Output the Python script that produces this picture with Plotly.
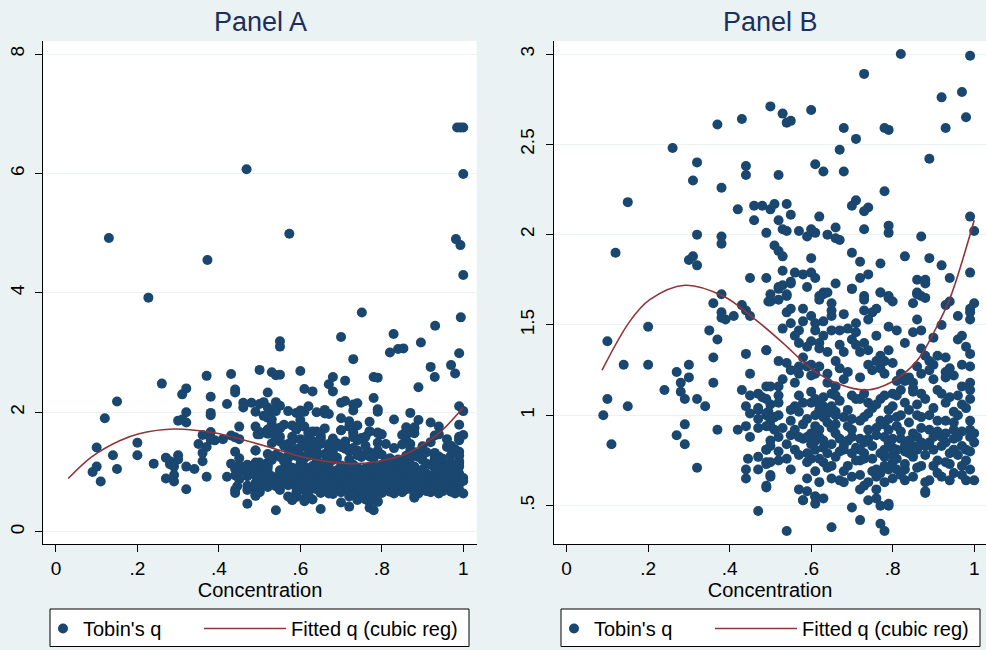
import plotly.graph_objects as go

# ---------------- data ----------------
# Observations with Tobin's q <= 3 (shown in both panels): (concentration, q)
obs_upper = [
    (0.82,3.00),(0.99,2.99),(0.73,2.89),(0.97,2.79),(0.92,2.76),(0.50,2.71),(0.60,2.69),(0.53,2.67),
    (0.43,2.64),(0.98,2.65),(0.54,2.62),(0.55,2.63),(0.37,2.61),(0.68,2.59),(0.78,2.59),(0.79,2.58),
    (0.93,2.59),(0.71,2.53),(0.26,2.48),(0.67,2.47),(0.89,2.42),(0.32,2.40),(0.44,2.38),(0.44,2.33),
    (0.61,2.39),(0.52,2.33),(0.63,2.35),(0.68,2.35),(0.31,2.30),(0.38,2.26),(0.78,2.24),(0.15,2.18),
    (0.42,2.14),(0.46,2.16),(0.48,2.16),(0.50,2.14),(0.51,2.17),(0.54,2.17),(0.70,2.16),(0.71,2.19),
    (0.73,2.13),(0.74,2.15),(0.46,2.08),(0.52,2.08),(0.55,2.11),(0.62,2.10),(0.99,2.10),(0.32,2.00),
    (0.38,1.99),(0.38,1.95),(0.49,2.01),(0.53,2.03),(0.54,2.02),(0.57,2.02),(0.59,1.99),(0.60,2.03),
    (0.61,2.01),(0.64,2.00),(0.66,2.04),(0.66,1.98),(0.67,1.97),(0.73,2.03),(0.79,2.05),(0.79,2.01),
    (0.87,1.99),(1.00,2.02),(0.12,1.90),(0.30,1.86),(0.31,1.88),(0.32,1.83),(0.51,1.94),(0.52,1.91),
    (0.53,1.88),(0.60,1.87),(0.70,1.90),(0.72,1.85),(0.77,1.84),(0.83,1.88),(0.89,1.87),(0.92,1.83),
    (0.45,1.76),(0.49,1.76),(0.53,1.80),(0.56,1.79),(0.58,1.78),(0.60,1.79),(0.61,1.76),(0.74,1.78),
    (0.72,1.76),(0.66,1.73),(0.70,1.70),(0.86,1.75),(0.88,1.75),(0.88,1.73),(0.94,1.76),(0.99,1.79),
    (0.52,1.71),(0.53,1.72),(0.55,1.74),(0.55,1.73),(0.59,1.71),(0.38,1.67),(0.54,1.67),(0.63,1.67),
    (0.64,1.68),(0.77,1.68),(0.79,1.66),(0.86,1.68),(0.87,1.66),(0.50,1.67),(0.62,1.66),(0.73,1.66),
]
obs_left = [
    (0.10,1.41),(0.09,1.00),(0.10,1.09),(0.11,0.84),(0.14,1.28),(0.15,1.05),(0.20,1.49),(0.20,1.28),
    (0.24,1.14),(0.27,1.24),(0.30,1.28),(0.28,1.18),(0.28,1.13),(0.30,1.21),(0.29,1.09),(0.32,1.09),
    (0.34,1.05),(0.29,0.95),(0.27,0.89),(0.29,0.84),(0.32,0.71),(0.36,1.32),(0.36,1.18),(0.37,0.92),
    (0.35,1.47),(0.37,1.42),(0.36,1.62),(0.38,1.57),(0.38,1.54),(0.39,1.53),(0.41,1.55),(0.43,1.61),
    (0.44,1.58),(0.45,1.55),(0.495,1.63),(0.49,1.36),(0.44,1.34),(0.45,1.23),(0.43,1.14),(0.45,1.11),
    (0.47,1.12),(0.48,1.10),(0.49,1.16),(0.44,1.05),(0.45,1.01),(0.47,1.04),(0.47,0.98),(0.49,1.00),
    (0.50,0.97),(0.42,0.92),(0.44,0.94),(0.45,0.88),(0.47,0.93),(0.49,0.94),(0.49,0.81),(0.445,0.76),
    (0.47,0.77),(0.44,0.70),(0.44,0.65),(0.47,0.70),(0.49,0.73),(0.50,0.67),(0.49,0.61),(0.47,0.47),
    (0.47,1.03),(0.495,1.02),(0.79,0.50),(0.88,0.57),(0.58,0.53),(0.61,0.55),
]
obs_core = [
    (0.52,1.70),(0.50,1.63),(0.52,1.64),(0.54,1.66),(0.55,1.59),(0.54,1.57),(0.58,1.59),(0.62,1.64),
    (0.63,1.68),(0.65,1.62),(0.65,1.58),(0.65,1.55),(0.68,1.56),(0.70,1.70),(0.73,1.64),(0.73,1.58),
    (0.75,1.57),(0.76,1.59),(0.74,1.53),(0.77,1.68),(0.79,1.65),(0.80,1.63),(0.85,1.62),(0.86,1.67),
    (0.88,1.65),(0.93,1.61),(0.94,1.63),(0.99,1.57),(0.99,1.59),(1.00,1.62),(0.99,1.53),
    (0.53,1.48),(0.55,1.51),(0.57,1.47),(0.58,1.52),(0.60,1.55),(0.61,1.51),(0.61,1.47),(0.57,1.40),
    (0.59,1.38),(0.60,1.41),(0.62,1.40),(0.62,1.37),(0.64,1.35),(0.63,1.44),(0.65,1.47),(0.67,1.47),
    (0.67,1.39),(0.68,1.35),(0.70,1.42),(0.71,1.46),(0.71,1.51),(0.71,1.39),(0.73,1.40),(0.72,1.35),
    (0.74,1.36),(0.79,1.49),(0.81,1.47),(0.86,1.53),(0.85,1.46),(0.87,1.47),(0.90,1.43),(0.87,1.37),
    (0.88,1.33),(0.93,1.32),(0.96,1.42),(0.97,1.44),(0.99,1.34),(0.49,1.36),
    (0.52,1.30),(0.54,1.29),(0.55,1.25),(0.57,1.23),(0.57,1.27),(0.56,1.18),(0.59,1.27),(0.60,1.28),
    (0.61,1.23),(0.60,1.22),(0.64,1.23),(0.64,1.18),(0.66,1.30),(0.67,1.26),(0.68,1.20),(0.66,1.16),
    (0.74,1.28),(0.75,1.25),(0.76,1.30),(0.77,1.33),(0.78,1.30),(0.79,1.36),(0.77,1.26),(0.78,1.23),
    (0.80,1.29),(0.82,1.23),(0.83,1.19),(0.84,1.21),(0.85,1.18),(0.85,1.15),(0.87,1.23),(0.89,1.30),
    (0.90,1.28),(0.89,1.25),(0.90,1.20),(0.93,1.24),(0.94,1.26),(0.93,1.21),(0.97,1.28),(0.99,1.27),
    (0.99,1.18),(0.99,1.14),(0.50,1.16),(0.52,1.16),
    (0.49,1.09),(0.50,1.06),(0.52,1.11),(0.52,1.07),(0.57,1.11),(0.56,1.05),(0.57,1.02),(0.60,1.07),
    (0.61,1.09),(0.62,1.06),(0.63,1.10),(0.65,1.12),(0.66,1.11),(0.65,1.05),(0.66,1.02),(0.70,1.11),
    (0.71,1.09),(0.72,1.09),(0.74,1.07),(0.75,1.04),(0.74,1.01),(0.77,1.09),(0.79,1.03),(0.80,1.12),
    (0.81,1.11),(0.83,1.07),(0.84,1.03),(0.85,1.13),(0.87,1.12),(0.92,1.12),(0.94,1.10),(0.96,1.11),
    (0.97,1.06),(0.99,1.09),(0.98,1.04),(0.96,1.00),(0.49,1.01),(0.51,0.99),(0.52,1.00),(0.59,0.98),
    (0.61,1.00),(0.62,1.03),(0.63,0.99),(0.64,1.01),(0.66,1.00),(0.68,0.99),(0.70,0.98),(0.72,0.97),
    (0.73,0.99),(0.77,0.97),(0.78,0.95),(0.79,0.98),(0.81,0.99),(0.82,1.00),(0.84,0.96),(0.86,1.00),
    (0.87,0.99),(0.89,1.00),(0.91,0.97),(0.93,0.97),(0.95,0.96),(0.99,0.97),
    (0.50,0.94),(0.51,0.92),(0.52,0.88),(0.50,0.86),(0.49,0.81),(0.50,0.83),(0.52,0.80),(0.55,0.89),
    (0.57,0.88),(0.58,0.87),(0.59,0.88),(0.60,0.90),(0.61,0.86),(0.61,0.94),(0.62,0.88),(0.63,0.82),
    (0.64,0.96),(0.65,0.93),(0.66,0.90),(0.67,0.87),(0.68,0.83),(0.69,0.94),(0.70,0.88),(0.71,0.82),
    (0.68,0.81),(0.72,0.87),(0.73,0.85),(0.74,0.92),(0.76,0.93),(0.77,0.95),(0.78,0.88),(0.79,0.85),
    (0.80,0.87),(0.79,0.92),(0.81,0.94),(0.82,0.87),(0.83,0.83),(0.83,0.80),(0.85,0.90),(0.85,0.83),
    (0.86,0.88),(0.87,0.93),(0.89,0.85),(0.90,0.88),(0.91,0.91),(0.92,0.88),(0.93,0.85),(0.95,0.92),
    (0.95,0.87),(0.96,0.88),(0.97,0.83),(0.99,0.88),(0.99,0.92),(1.00,0.90),(0.56,0.81),(0.59,0.79),
    (0.61,0.81),(0.64,0.79),(0.65,0.84),(0.70,0.79),(0.73,0.79),(0.75,0.83),(0.78,0.81),(0.78,0.77),
    (0.80,0.78),(0.81,0.81),(0.84,0.79),(0.86,0.81),(0.88,0.83),(0.94,0.79),(0.95,0.81),(0.98,0.81),
    (0.49,0.74),(0.50,0.74),(0.52,0.75),(0.54,0.76),(0.59,0.74),(0.60,0.76),(0.62,0.76),(0.63,0.74),
    (0.65,0.72),(0.66,0.77),(0.69,0.72),(0.72,0.75),(0.73,0.76),(0.76,0.70),(0.76,0.66),(0.77,0.68),
    (0.78,0.63),(0.79,0.70),(0.80,0.74),(0.81,0.70),(0.82,0.67),(0.83,0.70),(0.83,0.64),(0.87,0.72),
    (0.90,0.72),(0.92,0.66),(0.93,0.74),(0.95,0.68),(0.97,0.72),(0.99,0.70),(0.98,0.64),(1.00,0.64),
    (0.50,0.66),(0.49,0.60),(0.59,0.65),(0.57,0.59),(0.59,0.58),(0.61,0.55),(0.63,0.54),(0.62,0.63),
    (0.65,0.65),(0.67,0.64),(0.68,0.63),(0.72,0.67),(0.72,0.59),(0.73,0.61),(0.74,0.63),(0.76,0.59),
    (0.89,0.64),(0.88,0.63),(0.88,0.58),(0.74,0.53),(0.76,0.54),(0.77,0.50),(0.79,0.51),(0.58,0.53),
    (0.61,0.51),(0.70,0.49),(0.72,0.42),(0.54,0.36),(0.65,0.38),(0.77,0.40),(0.78,0.36),
]
# Additional overlapping observations in the densest part of the cloud
obs_dense_extra = [
    (0.53,0.93),(0.55,0.97),(0.56,0.92),(0.58,0.95),(0.54,0.84),(0.57,0.78),(0.60,0.84),(0.62,0.92),
    (0.63,0.86),(0.66,0.95),(0.67,0.80),(0.69,0.86),(0.70,0.92),(0.71,0.75),(0.72,0.81),(0.74,0.87),
    (0.75,0.76),(0.76,0.89),(0.77,0.79),(0.78,0.72),(0.80,0.82),(0.81,0.76),(0.82,0.91),(0.83,0.73),
    (0.84,0.86),(0.85,0.77),(0.86,0.71),(0.87,0.85),(0.88,0.78),(0.89,0.92),(0.90,0.81),(0.91,0.75),
    (0.92,0.83),(0.93,0.90),(0.94,0.73),(0.96,0.78),(0.97,0.91),(0.98,0.75),(0.99,0.80),(1.00,0.85),
    (0.55,1.03),(0.58,1.07),(0.60,1.13),(0.63,1.05),(0.67,1.08),(0.69,1.03),(0.73,1.12),(0.76,1.06),
    (0.78,1.11),(0.80,1.05),(0.82,1.14),(0.86,1.06),(0.88,1.09),(0.90,1.04),(0.91,1.14),(0.93,1.07),
    (0.95,1.02),(0.97,1.16),(0.53,1.20),(0.58,1.32),(0.62,1.27),(0.69,1.24),(0.72,1.21),(0.81,1.19),
    (0.86,1.27),(0.91,1.33),(0.95,1.22),(0.98,1.38),(0.55,0.70),(0.61,0.69),(0.64,0.71),(0.68,0.69),
    (0.70,0.66),(0.75,0.69),(0.80,0.65),(0.85,0.66),(0.91,0.68),(0.94,0.64),(0.97,0.67),(0.56,1.44),
    (0.63,1.52),(0.69,1.48),(0.76,1.44),(0.83,1.40),(0.92,1.50),(0.96,1.55),
]
# Observations with q > 3 (visible in Panel A only)
obs_high = [
    (0.13,4.92),(0.227,3.92),(0.372,4.55),(0.468,6.07),(0.573,4.99),(0.985,6.77),(0.993,6.77),
    (1.00,6.77),(1.00,5.99),(0.982,4.90),(0.993,4.80),(1.00,4.30),(0.751,3.67),(0.994,3.59),
    (0.931,3.45),(0.829,3.31),(0.70,3.26),(0.896,3.17),(0.55,3.19),(0.55,3.10),(0.84,3.06),(0.853,3.07),
]

# Fitted cubic regression curve
fit_conc = [0.03, 0.087, 0.155, 0.204, 0.29, 0.384, 0.458, 0.531, 0.605, 0.671, 0.736, 0.794, 0.859, 0.908, 0.941, 1.0]
fit_q    = [0.89, 1.25, 1.52, 1.64, 1.72, 1.66, 1.54, 1.40, 1.25, 1.17, 1.14, 1.18, 1.30, 1.49, 1.65, 2.08]

x_tickvals = [0, 0.2, 0.4, 0.6, 0.8, 1]
x_ticktext = ["0", ".2", ".4", ".6", ".8", "1"]
ya_tickvals = [0, 2, 4, 6, 8]
ya_ticktext = ["0", "2", "4", "6", "8"]
yb_tickvals = [0.5, 1, 1.5, 2, 2.5, 3]
yb_ticktext = [".5", "1", "1.5", "2", "2.5", "3"]

panel_titles = ["Panel A", "Panel B"]
x_title = "Concentration"
names = ["Tobin's q", "Fitted q (cubic reg)"]

# ---------------- assemble ----------------
obs_b = obs_upper + obs_left + obs_core + obs_dense_extra
conc_b = [p[0] for p in obs_b]
q_b = [p[1] for p in obs_b]
conc_a = conc_b + [p[0] for p in obs_high]
q_a = q_b + [p[1] for p in obs_high]

NAVY = "#1a476f"
MAROON = "#90353b"
BG = "#eaf2f3"
FONT = "Liberation Sans, Arial, sans-serif"
W, H = 986, 650

fig = go.Figure()
fig.add_trace(go.Scatter(x=conc_a, y=q_a, mode="markers", name=names[0],
                         marker=dict(size=10, color=NAVY, line=dict(width=0)),
                         xaxis="x", yaxis="y", legend="legend"))
fig.add_trace(go.Scatter(x=fit_conc, y=fit_q, mode="lines", name=names[1],
                         line=dict(color=MAROON, width=1.6, shape="spline", smoothing=1),
                         xaxis="x", yaxis="y", legend="legend2"))
fig.add_trace(go.Scatter(x=conc_b, y=q_b, mode="markers", name=names[0],
                         marker=dict(size=10, color=NAVY, line=dict(width=0)),
                         xaxis="x2", yaxis="y2", legend="legend3"))
fig.add_trace(go.Scatter(x=fit_conc[1:], y=fit_q[1:], mode="lines", name=names[1],
                         line=dict(color=MAROON, width=1.6, shape="spline", smoothing=1),
                         xaxis="x2", yaxis="y2", legend="legend4"))

ydom = [(H - 544.3) / H, (H - 41) / H]
common_x = dict(showline=True, linecolor="#000000", linewidth=1, ticks="outside", ticklen=7,
                tickcolor="#000000", tickwidth=1, showgrid=False, zeroline=False,
                tickvals=x_tickvals, ticktext=x_ticktext, automargin=False,
                tickfont=dict(family=FONT, size=19, color="#000000"), ticklabelstandoff=0,
                title=dict(text=x_title, font=dict(family=FONT, size=20, color="#000000"), standoff=0))
common_y = dict(showline=True, linecolor="#000000", linewidth=1, ticks="outside", ticklen=7,
                tickcolor="#000000", tickwidth=1, showgrid=True, gridcolor=BG, gridwidth=1,
                zeroline=False, tickangle=-90, automargin=False, ticklabelstandoff=4,
                tickfont=dict(family=FONT, size=19, color="#000000"), domain=ydom)

def leg(x_px, item_w):
    return dict(orientation="h", x=x_px / W, xanchor="left", y=1 - 609 / H, yanchor="top",
                bgcolor="rgba(0,0,0,0)", borderwidth=0,
                font=dict(family=FONT, size=20, color="#000000"), itemwidth=item_w)

# legend frames (white boxes with black border) behind the legend entries
boxes = []
for x0 in (50, 561):
    boxes.append(dict(type="rect", xref="paper", yref="paper",
                      x0=x0 / W, x1=(x0 + 419) / W, y0=1 - 646.5 / H, y1=1 - 609 / H,
                      fillcolor="#ffffff", line=dict(color="#000000", width=1), layer="above"))

fig.update_layout(
    width=W, height=H,
    margin=dict(l=0, r=0, t=0, b=0),
    paper_bgcolor=BG, plot_bgcolor="#ffffff",
    font=dict(family=FONT, color="#000000"),
    showlegend=True,
    xaxis=dict(common_x, domain=[43.3 / W, 476.7 / W], range=[-0.031, 1.033], anchor="y"),
    yaxis=dict(common_y, range=[-0.211, 8.218], tickvals=ya_tickvals, ticktext=ya_ticktext, anchor="x"),
    xaxis2=dict(common_x, domain=[554 / W, 1.0], range=[-0.031, 1.029], anchor="y2"),
    yaxis2=dict(common_y, range=[0.286, 3.072], tickvals=yb_tickvals, ticktext=yb_ticktext, anchor="x2"),
    legend=leg(43, 30),
    legend2=leg(199, 82),
    legend3=leg(554, 30),
    legend4=leg(710, 82),
    shapes=boxes,
    annotations=[
        dict(text=panel_titles[0], x=260 / W, y=1 - 22 / H, xref="paper", yref="paper",
             showarrow=False, xanchor="center", yanchor="middle",
             font=dict(family=FONT, size=27, color="#1c2f5c")),
        dict(text=panel_titles[1], x=770 / W, y=1 - 22 / H, xref="paper", yref="paper",
             showarrow=False, xanchor="center", yanchor="middle",
             font=dict(family=FONT, size=27, color="#1c2f5c")),
    ],
)

fig.write_html("out.html", config={"responsive": False, "displayModeBar": False},
               post_script="document.body.style.margin='0px';document.body.style.overflow='hidden';")
